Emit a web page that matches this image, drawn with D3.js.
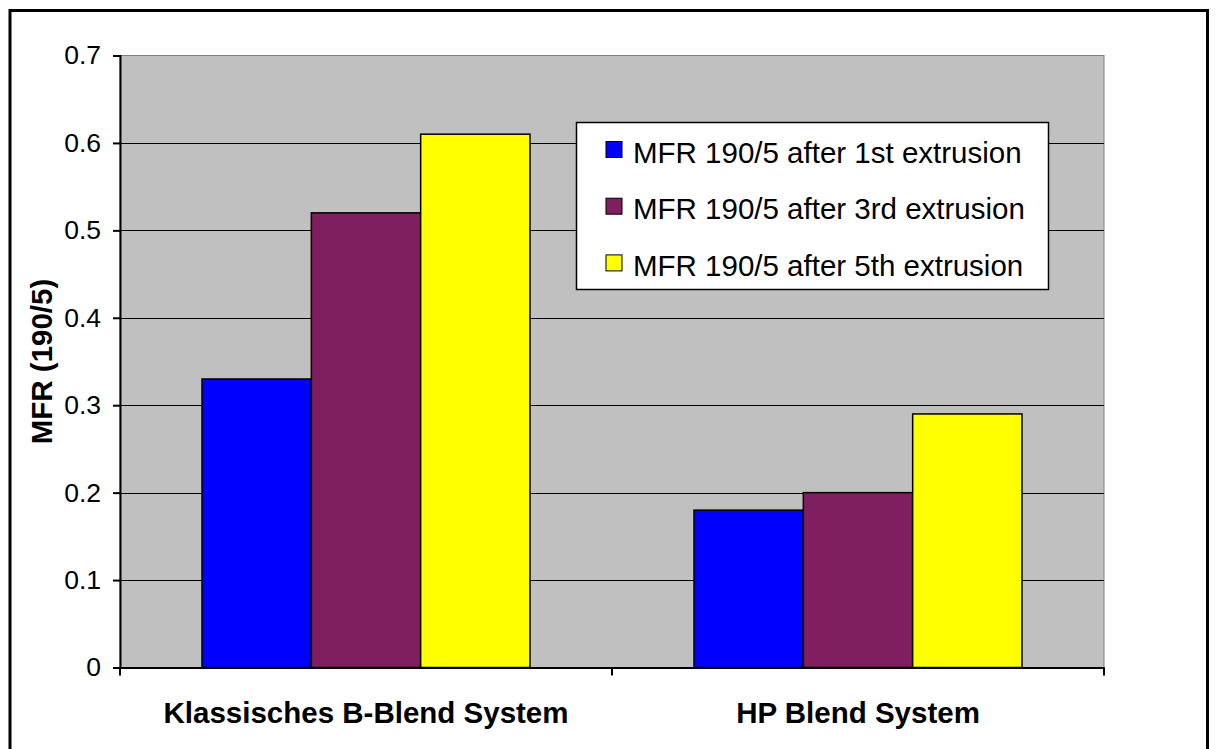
<!DOCTYPE html>
<html>
<head>
<meta charset="utf-8">
<script src="https://cdn.jsdelivr.net/npm/d3@7"></script>
<style>
  body { margin: 0; background: #fff; }
  text { font-family: "Liberation Sans", Arial, sans-serif; }
</style>
</head>
<body>
<div id="chart"></div>
<script>
// data
const categories = ["Klassisches B-Blend System", "HP Blend System"];
const seriesNames = ["MFR 190/5 after 1st extrusion", "MFR 190/5 after 3rd extrusion", "MFR 190/5 after 5th extrusion"];
const first = [0.33, 0.18];
const third = [0.52, 0.20];
const fifth = [0.61, 0.29];
const yTicks = [0, 0.1, 0.2, 0.3, 0.4, 0.5, 0.6, 0.7];
const colors = ["#0000FF", "#7F1F5F", "#FFFF00"];

const width = 1219, height = 749;
const margin = {top: 55.5, right: 115, bottom: 81.5, left: 120};
const fontFam = "'Liberation Sans', Arial, sans-serif";

const svg = d3.select("#chart").append("svg")
    .attr("width", width).attr("height", height);

// outer frame
svg.append("rect")
    .attr("x", 10).attr("y", 10.5)
    .attr("width", 1197.5).attr("height", 745)
    .attr("fill", "white").attr("stroke", "black").attr("stroke-width", 3);

const x = d3.scaleBand()
    .domain(categories)
    .range([margin.left, width - margin.right]);

const y = d3.scaleLinear()
    .domain([0, 0.7])
    .range([height - margin.bottom, margin.top]);

// series scale inside a category (150% gap like excel)
const inner = d3.scaleBand()
    .domain(d3.range(seriesNames.length))
    .range([x.bandwidth() * 0.75 / 4.5, x.bandwidth() - x.bandwidth() * 0.75 / 4.5]);

// plot area
svg.append("rect")
    .attr("x", margin.left).attr("y", y(0.7))
    .attr("width", x.range()[1] - margin.left)
    .attr("height", y(0) - y(0.7))
    .attr("fill", "#C0C0C0")
    .attr("stroke", "#808080").attr("stroke-width", 1);

// gridlines
svg.append("g")
    .selectAll("line")
    .data(yTicks.filter(d => d > 0 && d < 0.7))
    .join("line")
    .attr("x1", margin.left).attr("x2", x.range()[1])
    .attr("y1", d => Math.round(y(d)) + 0.5).attr("y2", d => Math.round(y(d)) + 0.5)
    .attr("stroke", "black");

// bars
const table = categories.map((c, i) => ({cat: c, vals: [first[i], third[i], fifth[i]]}));

svg.append("g")
    .selectAll("g")
    .data(table)
    .join("g")
    .attr("transform", d => `translate(${x(d.cat)},0)`)
    .selectAll("rect")
    .data(d => d.vals.map((v, k) => ({k, v})))
    .join("rect")
    .attr("x", d => inner(d.k))
    .attr("width", inner.bandwidth())
    .attr("y", d => y(d.v))
    .attr("height", d => y(0) - y(d.v))
    .attr("fill", d => colors[d.k])
    .attr("stroke", "black").attr("stroke-width", 1.5);

// y axis
const yAxis = svg.append("g")
    .attr("transform", `translate(${margin.left},0)`)
    .call(d3.axisLeft(y).tickValues(yTicks).tickSize(7).tickPadding(12)
        .tickFormat(d => d === 0 ? "0" : d3.format(".1f")(d)));
yAxis.select(".domain").attr("stroke-width", 2);
yAxis.selectAll(".tick line").attr("stroke-width", 2);
yAxis.selectAll("text").attr("font-size", 26.5).attr("fill", "black")
    .style("font-family", fontFam);

// x axis with ticks at category borders
const xAxis = svg.append("g")
    .attr("transform", `translate(0,${y(0)})`)
    .call(d3.axisBottom(x).tickSize(0).tickPadding(34.5));
xAxis.select(".domain").attr("stroke-width", 2);
xAxis.selectAll("text").attr("font-size", 29.5).attr("font-weight", "bold").attr("fill", "black")
    .style("font-family", fontFam);
xAxis.selectAll(".border")
    .data([categories[0], categories[1], null])
    .join("line")
    .attr("class", "border")
    .attr("x1", d => d ? x(d) : x.range()[1])
    .attr("x2", d => d ? x(d) : x.range()[1])
    .attr("y1", 0).attr("y2", 8)
    .attr("stroke", "black").attr("stroke-width", 2);

// y axis title
svg.append("text")
    .attr("transform", `translate(52,${(y(0) + y(0.7)) / 2}) rotate(-90)`)
    .attr("text-anchor", "middle")
    .attr("font-size", 29.5).attr("font-weight", "bold")
    .text("MFR (190/5)");

// legend
const legend = svg.append("g").attr("transform", "translate(576.5,122.5)");
legend.append("rect")
    .attr("width", 472).attr("height", 167)
    .attr("fill", "white").attr("stroke", "black").attr("stroke-width", 1.5);

const item = legend.selectAll(".item")
    .data(seriesNames)
    .join("g")
    .attr("class", "item")
    .attr("transform", (d, i) => `translate(0,${40 + i * 56.7})`);

item.append("rect")
    .attr("x", 29.5).attr("y", -21)
    .attr("width", 16).attr("height", 16)
    .attr("fill", (d, i) => colors[i])
    .attr("stroke", "black").attr("stroke-width", 1);

item.append("text")
    .attr("x", 56.5).attr("y", 0)
    .attr("font-size", 29.5)
    .text(d => d);
</script>
</body>
</html>
